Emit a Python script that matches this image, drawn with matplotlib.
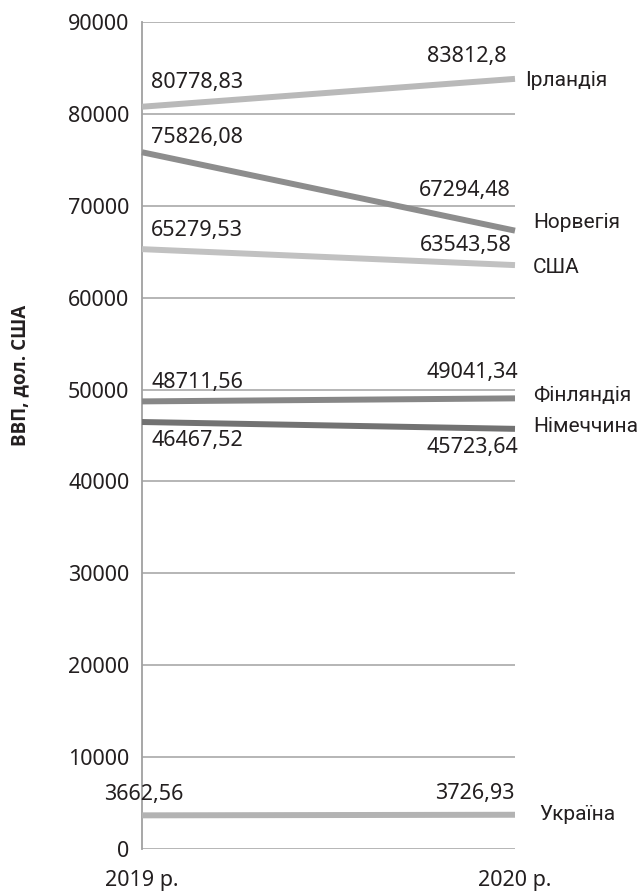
import matplotlib
matplotlib.use("Agg")
import matplotlib.pyplot as plt

plt.rcParams['font.family'] = ['Noto Sans', 'DejaVu Sans']

years = ["2019 р.", "2020 р."]
countries = ["Ірландія", "Норвегія", "США", "Фінляндія", "Німеччина", "Україна"]
v2019 = [80778.83, 75826.08, 65279.53, 48711.56, 46467.52, 3662.56]
v2020 = [83812.8, 67294.48, 63543.58, 49041.34, 45723.64, 3726.93]
labels2019 = ["80778,83", "75826,08", "65279,53", "48711,56", "46467,52", "3662,56"]
labels2020 = ["83812,8", "67294,48", "63543,58", "49041,34", "45723,64", "3726,93"]
yticks = [0, 10000, 20000, 30000, 40000, 50000, 60000, 70000, 80000, 90000]

colors = ["#b9b9b9", "#8d8d8d", "#c1c1c1", "#878787", "#727272", "#b3b3b3"]
# offsets in pixels: (label2019, label2020, name)
off19 = [(9, 24, 'left'), (9, 15, 'left'), (9, 19, 'left'), (9, 19, 'left'), (9, -18, 'left'), (2, 21, 'center')]
off20 = [(-8, 22), (-4, 40), (-3, 20), (3, 26), (3, -19), (0, 21)]
offn = [(10, -2), (18, 8), (18, -2), (18, 3), (18, 2), (24, 0)]

fig = plt.figure(figsize=(6.44, 8.91), dpi=100)
ax = fig.add_axes([142/644, 1 - 849/891, (515 - 142)/644, (849 - 22)/891])

fs = 15.5
fsn = 15
for i, c in enumerate(countries):
    ax.plot([0, 1], [v2019[i], v2020[i]], color=colors[i], lw=4.3,
            solid_capstyle='butt', zorder=3, clip_on=False)
    dx, dy, ha = off19[i]
    ax.annotate(labels2019[i], (0, v2019[i]), xytext=(dx, dy), textcoords='offset pixels',
                ha=ha, va='center', fontsize=fs, color='#231f20')
    dx, dy = off20[i]
    ax.annotate(labels2020[i], (1, v2020[i]), xytext=(dx, dy), textcoords='offset pixels',
                ha='right', va='center', fontsize=fs, color='#231f20')
    dx, dy = offn[i]
    ax.annotate(c, (1, v2020[i]), xytext=(dx, dy), textcoords='offset pixels',
                ha='left', va='center', fontsize=fsn, color='#231f20', annotation_clip=False,
                family=['Roboto', 'DejaVu Sans'])

ax.set_xlim(0, 1)
ax.set_ylim(0, 90000)
ax.set_yticks(yticks)
ax.set_yticklabels([str(t) for t in yticks], fontsize=fs, color='#231f20')
ax.set_xticks([0, 1])
ax.set_xticklabels(years, fontsize=fs, color='#231f20')
ax.tick_params(axis='y', length=0, pad=9)
ax.tick_params(axis='x', length=0, pad=15)
ax.grid(axis='y', color='#b0b0b0', lw=1.3)
ax.set_axisbelow(True)
for s in ['top', 'right', 'bottom']:
    ax.spines[s].set_visible(False)
ax.spines['left'].set_color('#a0a0a0')
ax.spines['left'].set_linewidth(1.3)

fig.text(20/644, 1 - 375/891, "ВВП, дол. США", rotation=90, ha='center', va='center',
         fontsize=13.5, fontweight='bold', color='#231f20', family=['Open Sans', 'DejaVu Sans'])

fig.savefig("out.png", dpi=100)
